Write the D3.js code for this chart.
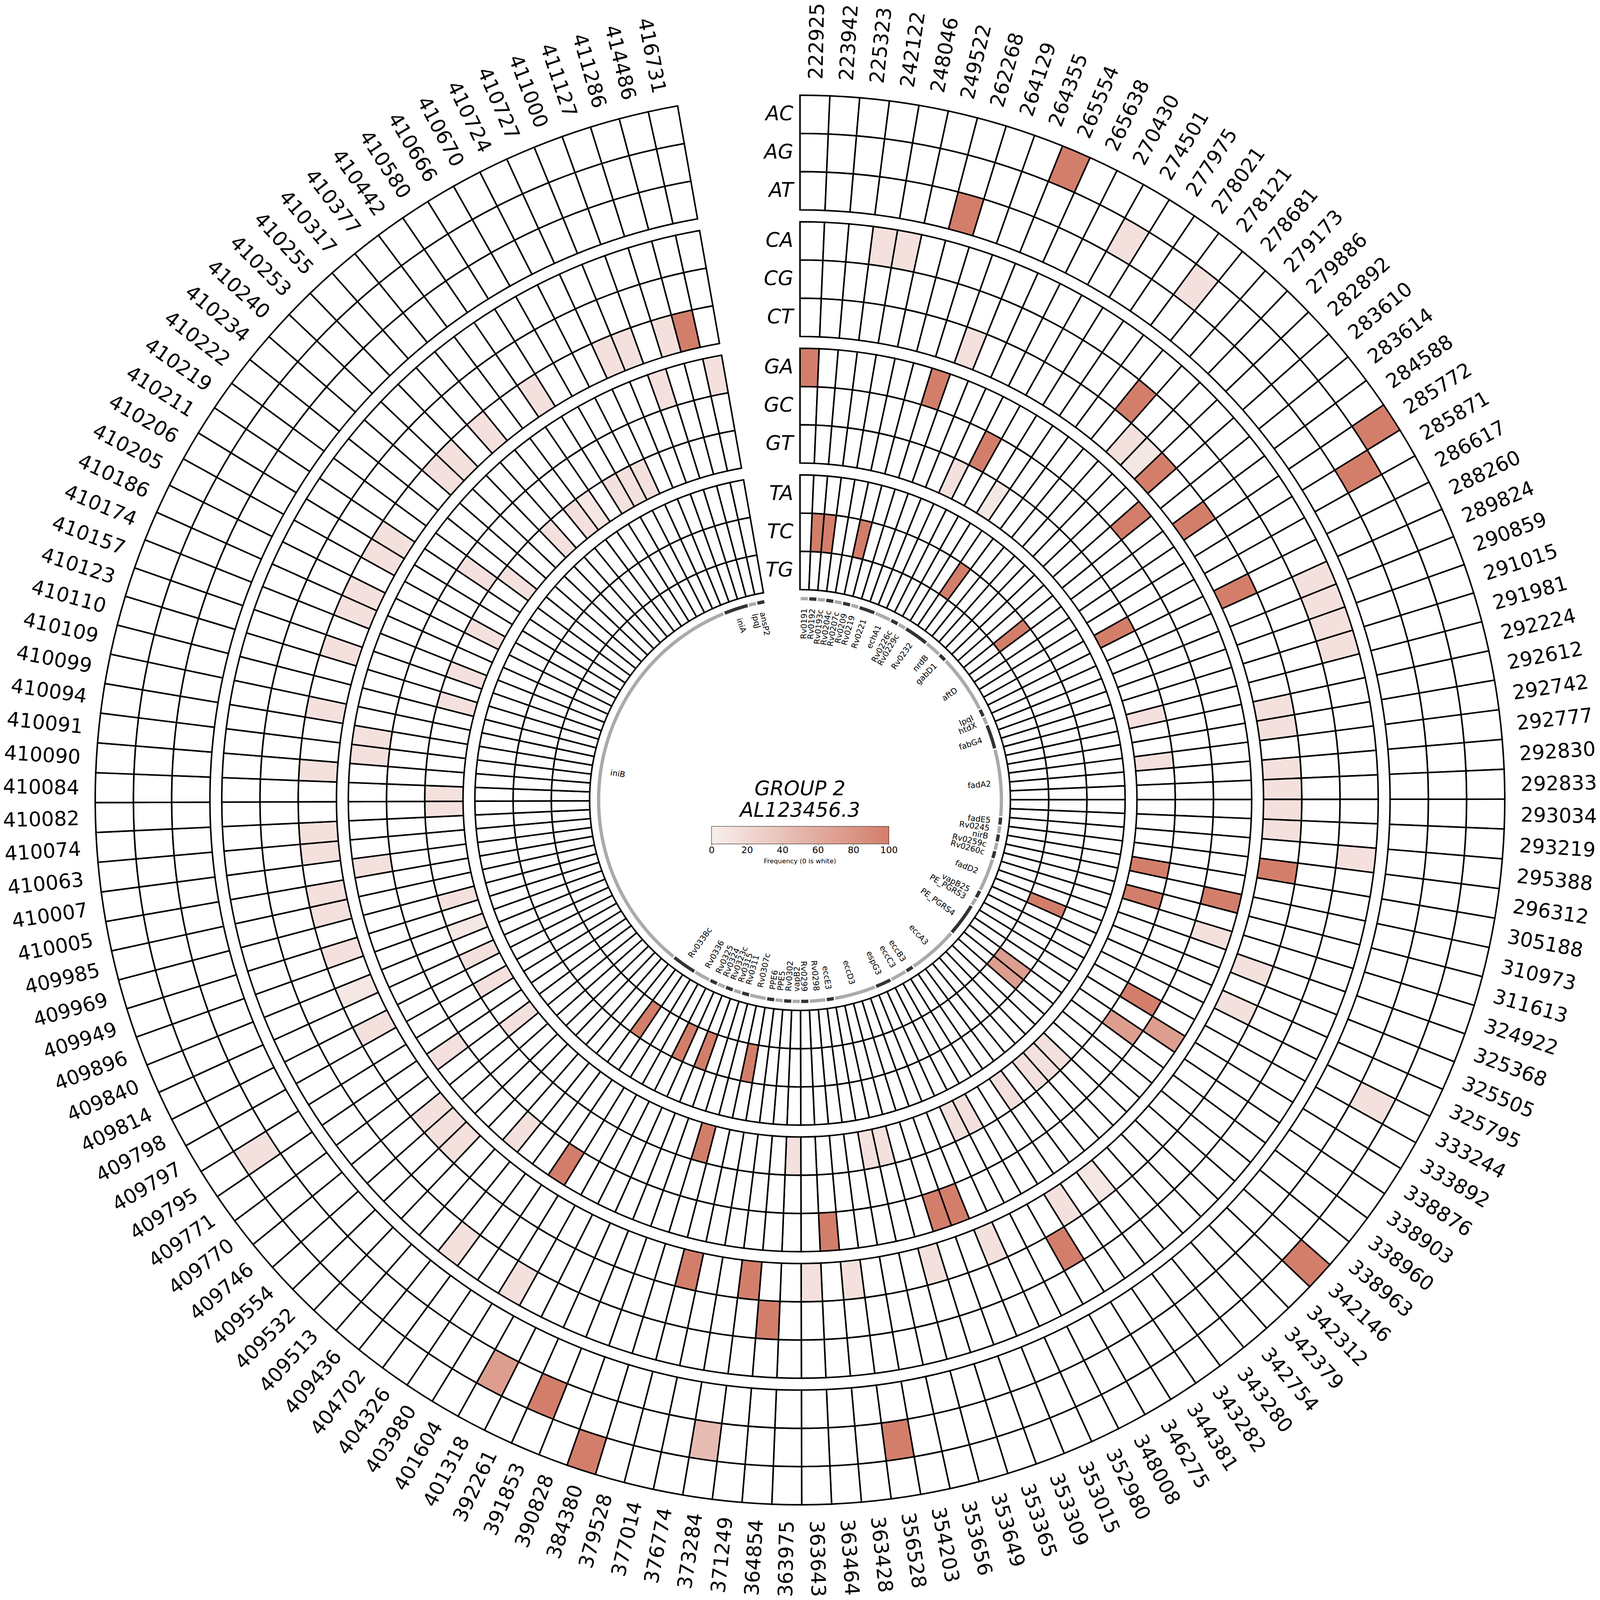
<!DOCTYPE html>
<html><head><meta charset="utf-8">
<script src="https://cdnjs.cloudflare.com/ajax/libs/d3/7.8.5/d3.min.js"></script>
<style>html,body{margin:0;padding:0;background:#fff;width:100%;height:100%;overflow:hidden}svg{display:block;width:100vw;height:100vh}text{font-family:"DejaVu Sans";fill:#000}</style>
</head><body><svg id="c" viewBox="0 0 6713 6713" preserveAspectRatio="xMidYMid meet"></svg>
<script>
const positions=[222925,223942,225323,242122,248046,249522,262268,264129,264355,265554,265638,270430,274501,277975,278021,278121,278681,279173,279886,282892,283610,283614,284588,285772,285871,286617,288260,289824,290859,291015,291981,292224,292612,292742,292777,292830,292833,293034,293219,295388,296312,305188,310973,311613,324922,325368,325505,325795,333244,333892,338876,338903,338960,338963,342146,342312,342379,342754,343280,343282,344381,346275,348008,352980,353015,353309,353365,353649,353656,354203,356528,363428,363464,363643,363975,364854,371249,373284,376774,377014,379528,384380,390828,391853,392261,401318,401604,403980,404326,404702,409436,409513,409532,409554,409746,409770,409771,409795,409797,409798,409814,409840,409896,409949,409969,409985,410005,410007,410063,410074,410082,410084,410090,410091,410094,410099,410109,410110,410123,410157,410174,410186,410205,410206,410211,410219,410222,410234,410240,410253,410255,410317,410377,410442,410580,410666,410670,410724,410727,411000,411127,411286,414486,416731];
const tracks=[["AC","AG","AT"],["CA","CG","CT"],["GA","GC","GT"],["TA","TC","TG"]];
const V=7,F=12,L=45,M=72,D=100;
// substitution -> [position index, frequency]
const AC=[[9,D],[23,D],[54,D],[81,D]];
const AG=[[12,F],[15,F],[24,D],[48,F],[70,D],[77,L],[83,D],[85,M],[97,F]];
const AT=[[6,D]];
const CA=[[3,F],[4,F],[27,F],[28,F],[29,F],[30,F],[39,F],[86,F],[89,F]];
const CG=[[16,D],[61,D],[75,D]];
const CT=[[8,F],[17,F],[18,V],[19,D],[22,D],[26,D],[32,F],[33,F],[35,F],[36,F],[37,F],[38,F],[40,D],[45,F],[47,F],[58,V],[60,F],[64,F],[67,F],[71,F],[73,F],[76,D],[79,D],[92,F],[93,F],[94,F],[99,F],[101,V],[103,F],[105,F],[106,F],[108,F],[109,F],[112,F],[115,F],[118,F],[120,F],[121,F],[123,F],[124,F],[128,F],[129,F],[131,F],[134,F],[138,F],[139,F],[141,F],[142,D]];
const GA=[[0,D],[7,D],[20,D],[42,D],[44,F],[50,M],[65,D],[66,D],[72,D],[87,D],[90,F],[96,F],[107,F],[113,F],[114,F],[140,F],[143,F]];
const GC=[[11,D],[49,D],[51,M],[125,F]];
const GT=[[10,F],[13,V],[25,D],[31,F],[34,F],[41,D],[43,D],[55,F],[56,F],[57,F],[59,F],[62,F],[63,F],[68,F],[69,F],[74,F],[80,D],[95,F],[98,F],[100,F],[102,V],[104,F],[110,F],[111,F],[117,F],[119,F],[122,F],[126,F],[130,F],[132,F],[133,V],[135,F],[136,F],[137,F]];
const TA=[];
const TC=[[1,D],[2,D],[5,D],[14,D],[21,D],[46,D],[52,M],[53,M],[78,D],[82,D],[84,D],[88,D]];
const TG=[];
const rowData={AC,AG,AT,CA,CG,CT,GA,GC,GT,TA,TC,TG};
const geneNames=["Rv0191","Rv0192","Rv0193c","Rv0204c","Rv0207c","Rv0209","Rv0219","Rv0221","echA1","Rv0226c","Rv0229c","Rv0232","nrdB","gabD1","aftD","lpqI","htdX","fabG4","fadA2","fadE5","Rv0245","nirB","Rv0259c","Rv0260c","fadD2","vapB25","PE_PGRS3","PE_PGRS4","eccA3","eccB3","eccC3","espG3","eccD3","eccE3","Rv0298","Rv0299","vapB2","Rv0302","PPE5","PPE6","Rv0307c","Rv0311","Rv0315","Rv0323c","Rv0324","Rv0325","Rv0336","Rv0338c","iniB","iniA","lpqJ","ansP2"];
const geneSpans=[1,1,1,1,1,1,1,2,2,1,1,3,2,1,7,1,1,3,8,1,1,1,1,1,4,1,1,4,6,1,2,2,5,1,2,1,1,1,1,1,2,1,1,1,1,1,2,3,49,3,1,1];
const legendTicks=[0,20,40,60,80,100];
const title=["GROUP 2","AL123456.3"];
const legendTitle="Frequency (0 is white)";

const cx=3356.5,cy=3356.5,toRad=Math.PI/180;
const svg=d3.select("#c");
const g=svg.append("g").attr("transform",`translate(${cx},${cy})`);
const ang=d3.scaleLinear().domain([0,positions.length]).range([0,350]);
const trackTop=d3.scaleOrdinal().domain([0,1,2,3]).range([2957,2426,1895,1364]);
const rowH=160.4;
const color=d3.scaleLinear().domain([0,100]).range(["#f8efec","#d37e6b"]);
const arc=d3.arc();
const place=(r,deg)=>{
  const right=deg<180;
  const rot=right?deg-90:deg+90;
  return `translate(${r*Math.sin(deg*toRad)},${-r*Math.cos(deg*toRad)}) rotate(${rot})`;
};
tracks.forEach((rows,t)=>{
  rows.forEach((row,ri)=>{
    const rOut=trackTop(t)-ri*rowH, rIn=rOut-rowH;
    const vals=new Map(rowData[row]);
    g.append("g").selectAll("path").data(positions).join("path")
      .attr("d",(d,i)=>arc({innerRadius:rIn,outerRadius:rOut,startAngle:ang(i)*toRad,endAngle:ang(i+1)*toRad}))
      .attr("fill",(d,i)=>vals.has(i)?color(vals.get(i)):"#fff")
      .attr("stroke","#000").attr("stroke-width",6.4).attr("stroke-linejoin","miter");
    g.append("text").text(row).attr("x",-28).attr("y",-(rOut-rowH/2)).attr("dy","0.294em")
      .attr("text-anchor","end").attr("font-style","italic").attr("font-size",84);
  });
});
// position labels
g.append("g").selectAll("text").data(positions).join("text")
  .text(d=>d).attr("font-size",84).attr("dy","0.36em")
  .attr("text-anchor",(d,i)=>ang(i+.5)<180?"start":"end")
  .attr("transform",(d,i)=>place(3024,ang(i+.5)));
// genes
const genes=[];let acc=0;
geneNames.forEach((n,i)=>{genes.push({n,s:acc,e:acc+geneSpans[i],i});acc+=geneSpans[i];});
g.append("g").selectAll("path").data(genes).join("path")
  .attr("d",d=>arc({innerRadius:838,outerRadius:852,startAngle:(ang(d.s)+.2)*toRad,endAngle:(ang(d.e)-.2)*toRad}))
  .attr("fill",d=>d.i%2?"#333333":"#aaaaaa");
g.append("g").selectAll("text").data(genes).join("text")
  .text(d=>d.n).attr("font-size",33.5).attr("dy","0.36em")
  .attr("text-anchor",d=>ang((d.s+d.e)/2)<180?"end":"start")
  .attr("transform",d=>place(804,ang((d.s+d.e)/2)));
// centre title
title.forEach((s,i)=>svg.append("text").text(s).attr("x",cx).attr("y",3337+i*90)
  .attr("text-anchor","middle").attr("font-style","italic").attr("font-size",84));
// colorbar
const defs=svg.append("defs");
const lg=defs.append("linearGradient").attr("id","cb");
lg.selectAll("stop").data(legendTicks).join("stop")
  .attr("offset",d=>d+"%").attr("stop-color",d=>color(d));
const bx=d3.scaleLinear().domain([0,100]).range([2985.5,3729.5]);
const by=3467,bh=74;
svg.append("rect").attr("x",bx(0)).attr("y",by).attr("width",bx(100)-bx(0)).attr("height",bh)
  .attr("fill","url(#cb)").attr("stroke","#000").attr("stroke-width",1.5);
const ax=d3.axisBottom(bx).tickValues(legendTicks).tickSize(6).tickPadding(5);
const ag=svg.append("g").attr("transform",`translate(0,${by+bh})`).call(ax);
ag.select(".domain").remove();
ag.selectAll("line").attr("stroke","#000").attr("stroke-width",1.5);
ag.selectAll("text").attr("font-size",38.5).attr("font-family","DejaVu Sans").attr("fill","#000");
svg.append("text").text(legendTitle).attr("x",cx).attr("y",3622).attr("text-anchor","middle").attr("font-size",27.4);
</script></body></html>
